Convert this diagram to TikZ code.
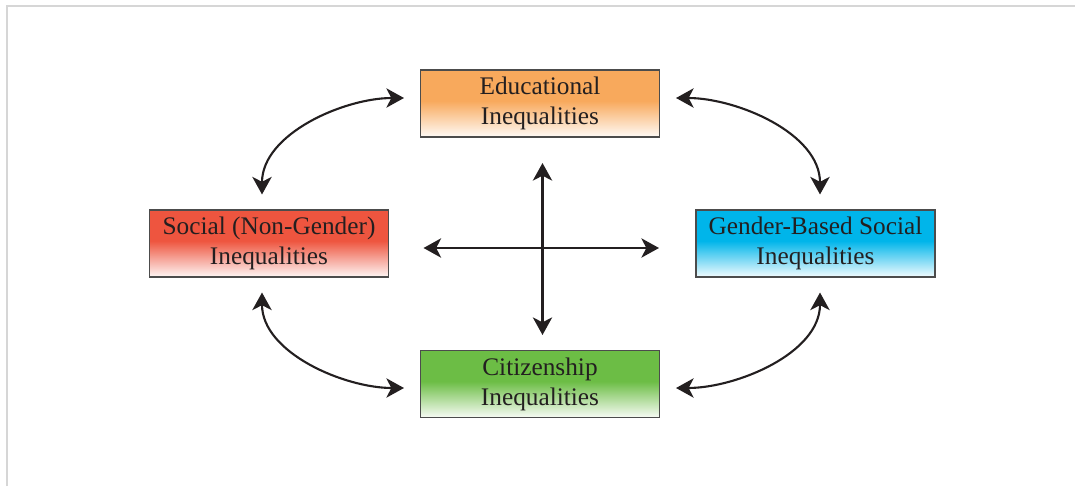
\documentclass[tikz,border=0pt]{standalone}
\usepackage{fontspec}
\setmainfont{Liberation Serif}
\usetikzlibrary{arrows.meta, positioning}

\definecolor{inkdark}{HTML}{231F20}
\definecolor{framegray}{HTML}{D6D6D6}
\definecolor{eduorange}{HTML}{F8A95C}
\definecolor{socred}{HTML}{EE553F}
\definecolor{genblue}{HTML}{00B5EA}
\definecolor{citgreen}{HTML}{6CBD45}
\colorlet{boxcol}{white}

\pgfdeclareverticalshading[boxcol]{boxfade}{100bp}{color(0bp)=(boxcol!5); color(25bp)=(boxcol!5); color(52bp)=(boxcol); color(100bp)=(boxcol)}

\tikzset{
  ineq/.style={draw=black!70, line width=0.6pt, minimum width=4.78cm, minimum height=1.34cm,
    inner sep=0pt, align=center, text=inkdark, font=\fontsize{14.4}{17.1}\selectfont,
    /utils/exec={\colorlet{boxcol}{#1}}, shade, shading=boxfade},
  link/.style={line width=1.2pt, draw=inkdark, arrows={Stealth[length=10pt, width=11pt, inset=2.8pt]-Stealth[length=10pt, width=11pt, inset=2.8pt]}}
}

\begin{document}
\begin{tikzpicture}

    \useasboundingbox (0 , 0) rectangle (21.5 , 9.72);
    \draw[framegray, line width=1.2pt] (0.14 , 0) -- (0.14 , 9.6) -- (21.5 , 9.6);

    \node [ineq=eduorange] (edu) at (10.8 , 7.65) {Educational\\Inequalities};
    \node [ineq=socred] (soc) at (5.38 , 4.85) {Social (Non-Gender)\\Inequalities};
    \node [ineq=genblue] (gen) at (16.31 , 4.85) {Gender-Based Social\\Inequalities};
    \node [ineq=citgreen] (cit) at (10.8 , 2.04) {Citizenship\\Inequalities};

 \path
      ([xshift=-0.14cm]soc.north) edge[link, shorten <=0.3cm, shorten >=0.32cm, out=90, in=180] ([yshift=0.11cm]edu.west)
      ([xshift=0.09cm]gen.north) edge[link, shorten <=0.3cm, shorten >=0.32cm, out=90, in=0] ([yshift=0.11cm]edu.east)
      ([xshift=-0.14cm]soc.south) edge[link, shorten <=0.3cm, shorten >=0.32cm, out=-90, in=180] ([yshift=-0.08cm]cit.west)
      ([xshift=0.09cm]gen.south) edge[link, shorten <=0.3cm, shorten >=0.32cm, out=-90, in=0] ([yshift=-0.08cm]cit.east)
      ([xshift=0.05cm]edu.south) edge[link, shorten <=0.51cm, shorten >=0.3cm] ([xshift=0.05cm]cit.north)
      ([yshift=-0.09cm]soc.east) edge[link, shorten <=0.69cm, shorten >=0.73cm] ([yshift=-0.09cm]gen.west);
\end{tikzpicture}
\end{document}
